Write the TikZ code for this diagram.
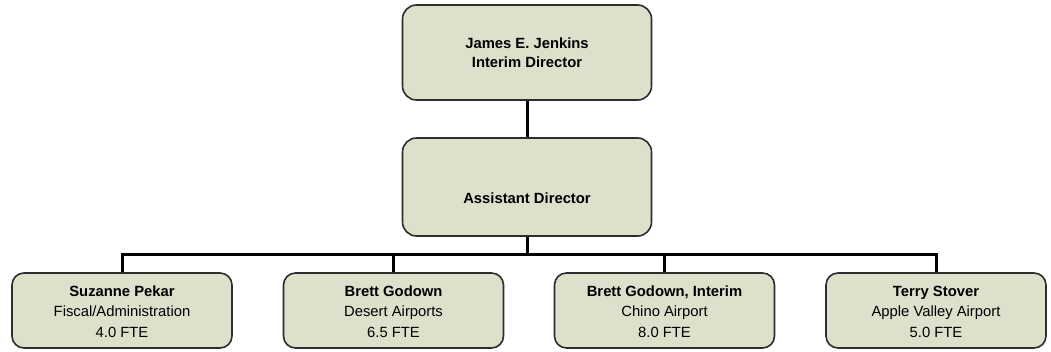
\documentclass[tikz,border=0pt]{standalone}
\usepackage{fontspec}
\setmainfont{Liberation Sans}
\definecolor{boxfill}{RGB}{221,224,203}
\definecolor{boxline}{RGB}{45,45,45}
\newcommand{\unittext}[3]{\begin{tabular}{@{}c@{}}\rule{0pt}{18.5pt}\textbf{#1}\\#2\\#3\end{tabular}}
\begin{document}
\begin{tikzpicture}[x=1pt,y=-1pt,
  orgbox/.style={draw=boxline, line width=1.6pt, fill=boxfill, rounded corners=14pt,
    align=center, inner sep=0pt, font=\fontsize{14.8}{19}\selectfont},
  topbox/.style={orgbox, minimum width=249pt, minimum height=95pt},
  unitbox/.style={orgbox, rounded corners=12pt, minimum width=220pt, minimum height=75pt,
    font=\fontsize{14.8}{20.5}\selectfont},
  link/.style={line width=3pt, draw=black}]
\useasboundingbox (0,0) rectangle (1051,351);
\node[topbox] (dir) at (527,52.5) {\textbf{James E. Jenkins}\\\textbf{Interim Director}};
\node[topbox, minimum height=98pt, text height=32.6pt, text depth=0pt] (asst) at (527,187) {\textbf{Assistant Director}};
\node[unitbox] (b1) at (122,310.5) {\unittext{Suzanne Pekar}{Fiscal/Administration}{4.0 FTE}};
\node[unitbox] (b2) at (393.5,310.5) {\unittext{Brett Godown}{Desert Airports}{6.5 FTE}};
\node[unitbox] (b3) at (664.5,310.5) {\unittext{Brett Godown, Interim}{Chino Airport}{8.0 FTE}};
\node[unitbox] (b4) at (936,310.5) {\unittext{Terry Stover}{Apple Valley Airport}{5.0 FTE}};
\coordinate (bus) at (527,254);
\draw[link] (dir.south) -- (asst.north);
\draw[link] (asst.south) -- (bus);
\draw[link] (b1.north) |- (bus) -| (b4.north);
\draw[link] (b2.north) -- (b2.north |- bus);
\draw[link] (b3.north) -- (b3.north |- bus);
\end{tikzpicture}
\end{document}
